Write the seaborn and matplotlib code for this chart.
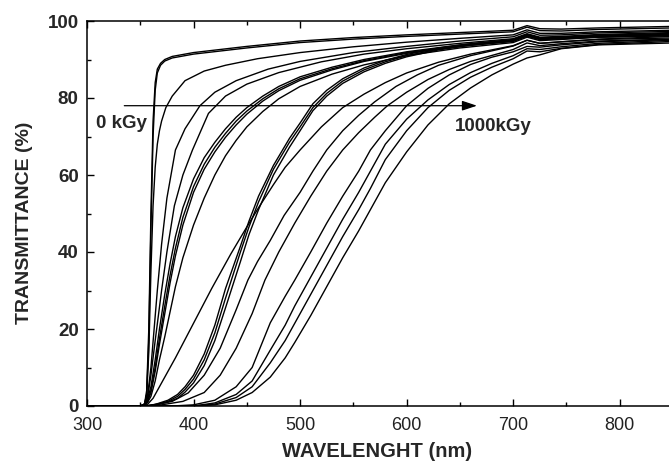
import matplotlib
matplotlib.use("Agg")
import matplotlib.pyplot as plt
import pandas as pd
import seaborn as sns
from matplotlib.ticker import MultipleLocator
from matplotlib.patches import ArrowStyle

# ---- data: transmittance (%) vs wavelength (nm) ----
A_x = [300, 350, 354, 356, 358, 360, 362, 364, 366, 369, 373, 380, 400, 450, 500, 550, 600, 650, 700, 713, 725, 745, 780, 850]
A1_y = [0, 0, 0.5, 4, 20, 50, 74, 84, 87.5, 89, 90, 90.8, 91.8, 93.4, 94.8, 95.7, 96.4, 97.0, 97.6, 98.8, 98.0, 97.9, 98.2, 98.6]
A2_y = [0, 0, 0.3, 3, 17, 46, 70, 82, 86.5, 88.5, 89.6, 90.4, 91.4, 93.0, 94.4, 95.3, 96.0, 96.6, 97.2, 98.4, 97.5, 97.4, 97.8, 98.2]

A3_x = [300, 350, 354, 356, 358, 360, 362, 364, 366, 368, 370, 374, 380, 392, 410, 430, 460, 500, 550, 600, 650, 700, 713, 725, 745, 780, 850]
A3_y = [0, 0, 0.5, 3, 14, 35, 52, 62, 68, 71.5, 74, 77.5, 80.5, 84.5, 87, 88.5, 90.2, 91.8, 93.3, 94.5, 95.5, 96.4, 97.7, 96.8, 96.8, 97.2, 97.6]

A4_x = [300, 350, 354, 357, 360, 363, 366, 370, 375, 383, 392, 406, 420, 440, 470, 500, 550, 600, 650, 700, 713, 725, 745, 780, 850]
A4_y = [0, 0, 0.5, 3, 10, 20, 30, 42, 54, 66.5, 72, 78, 81.5, 84.5, 87.5, 89.5, 91.8, 93.4, 94.8, 95.9, 97.2, 96.3, 96.4, 96.9, 97.3]

A5_x = [300, 350, 354, 357, 360, 364, 370, 375, 382, 390, 399, 414, 430, 450, 480, 520, 560, 600, 650, 700, 713, 725, 745, 780, 850]
A5_y = [0, 0, 0.5, 2.5, 8, 17, 30, 40, 52, 60, 66.5, 76, 80.5, 83.6, 86.6, 89.4, 91.4, 92.8, 94.2, 95.4, 96.7, 95.8, 96.0, 96.5, 97.0]

B_x = [300, 350, 354, 357, 360, 364, 368, 373, 378, 383, 390, 400, 410, 420, 430, 440, 450, 465, 480, 500, 530, 560, 600, 650, 700, 713, 725, 745, 780, 850]
B1_y = [0, 0, 0.3, 2, 5, 12, 20, 29, 37, 44, 51.5, 59, 64.5, 68.5, 72, 75, 77.5, 80.5, 83, 85.5, 88, 90, 92, 93.8, 95.1, 96.5, 95.6, 95.8, 96.3, 96.8]
B2_y = [0, 0, 0.2, 1.5, 4, 10, 17.5, 26, 34, 41, 49, 57, 62.8, 67.2, 70.8, 74, 76.6, 79.8, 82.4, 85, 87.6, 89.7, 91.8, 93.6, 94.9, 96.3, 95.4, 95.6, 96.1, 96.6]
B3_y = [0, 0, 0.2, 1.2, 3.5, 9, 16, 24, 32, 39, 47, 55.5, 61.5, 66, 69.8, 73, 75.8, 79.2, 81.9, 84.6, 87.3, 89.5, 91.6, 93.4, 94.7, 96.1, 95.2, 95.4, 95.9, 96.4]
B4_y = [0, 0, 0.2, 1, 2.5, 6.5, 12, 18, 24.5, 31, 38.5, 47, 54, 60, 65, 69, 72.5, 76.5, 79.8, 83, 86.2, 88.6, 91, 93, 94.4, 95.8, 94.9, 95.2, 95.8, 96.2]

C1_x = [300, 350, 354, 357, 362, 370, 383, 400, 417, 435, 450, 461, 475, 486, 500, 520, 540, 560, 580, 600, 630, 660, 700, 713, 725, 745, 780, 850]
C1_y = [0, 0, 0, 0.5, 2, 6, 12.5, 21.5, 30.5, 39.5, 46.5, 51.5, 57.5, 62, 66.5, 72.5, 77.5, 81, 84, 86.5, 89.3, 91.4, 93.6, 95, 94.2, 94.6, 95.3, 96]

C_x = [300, 350, 356, 365, 376, 385, 392, 400, 410, 420, 430, 437, 444, 452, 461, 475, 490, 500, 512, 525, 540, 560, 580, 600, 630, 660, 700, 713, 725, 745, 780, 850]
C2_y = [0, 0, 0, 0.5, 1.5, 3, 5, 8, 13.5, 21, 30.5, 36, 41.5, 48, 54.5, 62.5, 69.5, 73.5, 78.5, 82, 85, 87.8, 89.8, 91.3, 93, 94.1, 95.2, 96.5, 95.6, 95.8, 96.2, 96.6]
C3_y = [0, 0, 0, 0.4, 1.2, 2.5, 4.3, 7, 12, 19, 28, 34, 40, 46.5, 53, 61.5, 68.5, 72.5, 77.5, 81.2, 84.4, 87.3, 89.4, 91, 92.7, 93.9, 95, 96.3, 95.4, 95.6, 96, 96.4]
C4_y = [0, 0, 0, 0.3, 1, 2, 3.6, 6, 10.5, 17, 25.5, 31.5, 37.5, 44.5, 51, 60, 67.2, 71.5, 76.7, 80.5, 83.8, 86.8, 89, 90.7, 92.5, 93.7, 94.8, 96.1, 95.2, 95.4, 95.8, 96.2]

C5a_x = [300, 350, 360, 380, 395, 410, 425, 440, 451, 460, 472, 485, 500, 512, 525, 540, 555, 570, 590, 610, 630, 660, 700, 713, 725, 745, 780, 850]
C5a_y = [0, 0, 0.2, 1.2, 3.4, 8, 15, 25, 32.7, 37.5, 43, 49.5, 55.5, 61, 66.5, 71.5, 75.5, 79, 83, 86, 88.5, 91, 93.5, 95, 94.2, 94.6, 95.2, 95.6]

C5b_x = [300, 350, 370, 390, 410, 425, 440, 455, 467, 480, 495, 510, 525, 540, 555, 570, 582, 600, 620, 640, 660, 700, 713, 725, 745, 780, 850]
C5b_y = [0, 0, 0.3, 1.2, 3.5, 8, 15, 24, 32.7, 40, 47.5, 54.5, 61, 66.5, 71, 75, 78, 81.5, 84.8, 87.4, 89.5, 92.6, 94.3, 93.6, 94.1, 94.8, 95.3]

D_x = [300, 380, 400, 420, 440, 455, 472, 486, 495, 510, 525, 540, 555, 566, 580, 600, 620, 640, 660, 680, 700, 713, 725, 745, 780, 850]
D1_y = [0, 0, 0.3, 1.5, 5, 10, 21.6, 28.5, 32.7, 40, 47.5, 54.5, 61, 66.5, 71.5, 78, 82.5, 86, 88.7, 90.6, 92, 93.4, 93.2, 93.8, 94.6, 95.2]
D2_y = [0, 0, 0, 0.8, 3, 6.5, 14.5, 21, 26, 33.5, 41, 48.5, 55.5, 61, 68, 74.5, 79.5, 83.5, 86.6, 89, 91, 92.8, 92.6, 93.3, 94.2, 95]
D3_y = [0, 0, 0, 0.5, 2.2, 5, 11.2, 17, 21.5, 29, 36.5, 44, 51, 56.5, 64, 71.5, 77.5, 82, 85.4, 88, 90.2, 92.2, 92, 92.9, 93.9, 94.7]
D4_y = [0, 0, 0, 0.3, 1.5, 3.5, 7.5, 12.5, 16.5, 23.5, 31, 38.5, 45.5, 51, 58, 66, 73, 78.5, 82.6, 86, 88.8, 90.4, 91.2, 92.8, 93.8, 94.3]

x_ticks = [300, 400, 500, 600, 700, 800]
y_ticks = [0, 20, 40, 60, 80, 100]

curves = {
    "A1": (A_x, A1_y), "A2": (A_x, A2_y), "A3": (A3_x, A3_y), "A4": (A4_x, A4_y), "A5": (A5_x, A5_y),
    "B1": (B_x, B1_y), "B2": (B_x, B2_y), "B3": (B_x, B3_y), "B4": (B_x, B4_y),
    "C1": (C1_x, C1_y), "C2": (C_x, C2_y), "C3": (C_x, C3_y), "C4": (C_x, C4_y),
    "C5a": (C5a_x, C5a_y), "C5b": (C5b_x, C5b_y),
    "D1": (D_x, D1_y), "D2": (D_x, D2_y), "D3": (D_x, D3_y), "D4": (D_x, D4_y),
}
rows = []
for name, (xs, ys) in curves.items():
    for xv, yv in zip(xs, ys):
        rows.append({"curve": name, "wl": xv, "T": yv})
df = pd.DataFrame(rows)

sns.set_style("ticks")
plt.rcParams["font.family"] = ["Liberation Sans", "DejaVu Sans"]

fig = plt.figure(figsize=(6.69, 4.68), dpi=100)
ax = fig.add_axes([87 / 669, 62 / 468, 586 / 669, 385 / 468])
sns.lineplot(data=df, x="wl", y="T", units="curve", estimator=None,
             color="black", lw=1.0, ax=ax, legend=False)

ax.set_xlim(300, 850)
ax.set_ylim(0, 100)
ax.set_xticks(x_ticks)
ax.set_yticks(y_ticks)
ax.xaxis.set_minor_locator(MultipleLocator(50))
ax.yaxis.set_minor_locator(MultipleLocator(10))
ax.tick_params(which="both", direction="in", top=True, right=False, width=1.0, color="black")
ax.tick_params(which="major", length=5)
ax.tick_params(which="minor", length=3)
ax.tick_params(axis="x", labelsize=13, pad=8, labelcolor="#222222")
ax.tick_params(axis="y", labelsize=13.5, pad=6)
for lab in ax.get_yticklabels():
    lab.set_fontweight("bold")
for sp in ["left", "bottom", "top"]:
    ax.spines[sp].set_linewidth(1.1)
    ax.spines[sp].set_color("black")
ax.spines["right"].set_visible(False)

ax.set_xlabel("WAVELENGHT (nm)", fontsize=14.5, fontweight="bold")
ax.set_ylabel("TRANSMITTANCE (%)", fontsize=14, fontweight="bold")
ax.xaxis.set_label_coords(0.495, -0.094)
ax.yaxis.set_label_coords(-0.092, 0.475)

ax.annotate("", xy=(666, 78), xytext=(335, 78),
            arrowprops=dict(arrowstyle=ArrowStyle("-|>", head_length=0.75, head_width=0.25),
                            mutation_scale=12, color="black", lw=0.9, shrinkA=0, shrinkB=0))
ax.text(308.5, 73.5, "0 kGy", fontsize=13.5, fontweight="bold", ha="left", va="center")
ax.text(645.5, 72.5, "1000kGy", fontsize=13.5, fontweight="bold", ha="left", va="center")

fig.savefig("out.png", dpi=100)
